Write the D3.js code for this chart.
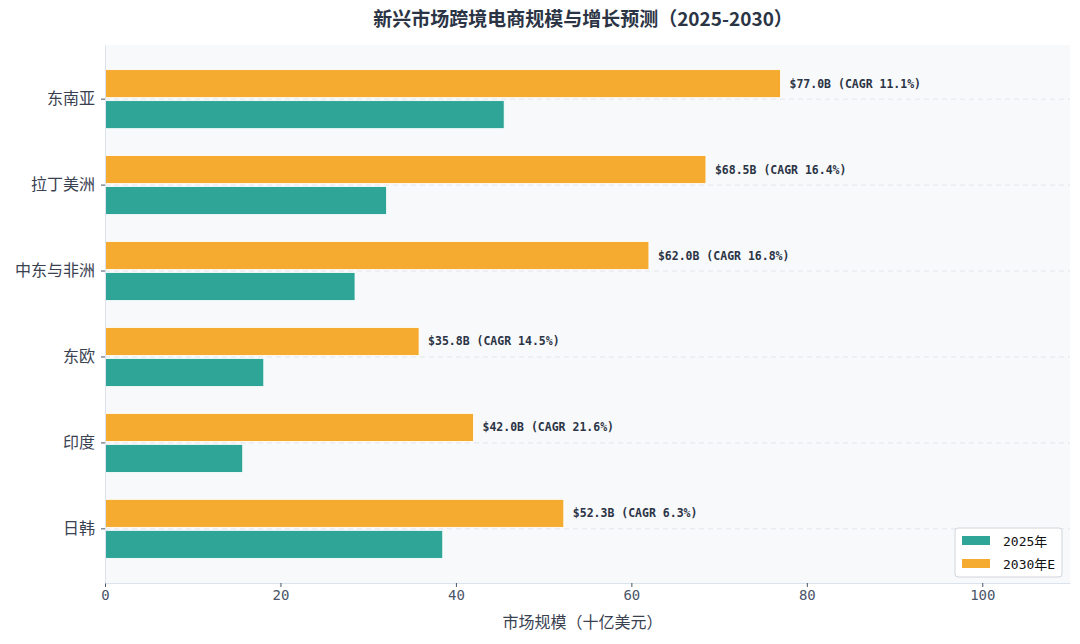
<!DOCTYPE html>
<html><head><meta charset="utf-8">
<script src="https://cdn.jsdelivr.net/npm/d3@7"></script>
<style>
body{margin:0;background:#fff;font-family:"DejaVu Sans Mono","Noto Sans CJK SC",monospace;}
</style></head><body><div id="chart"></div>
<script>
var regions = ["东南亚","拉丁美洲","中东与非洲","东欧","印度","日韩"];
var v2025 = [45.5, 32.1, 28.5, 18.1, 15.7, 38.5];
var v2030 = [77.0, 68.5, 62.0, 35.8, 42.0, 52.3];
var cagr = [11.1, 16.4, 16.8, 14.5, 21.6, 6.3];
var xTicks = [0, 20, 40, 60, 80, 100];

var W = 1080, H = 644;
var margin = {top: 45, right: 10, bottom: 61, left: 105},
    width = W - margin.left - margin.right,
    height = H - margin.top - margin.bottom;

var svg = d3.select("#chart").append("svg").attr("width", W).attr("height", H);

svg.append("text").attr("x", 583).attr("y", 26).attr("text-anchor", "middle")
  .style("font-size", "19px").style("font-weight", "bold").attr("fill", "#2b3445")
  .style("font-family", "'Noto Sans CJK SC','DejaVu Sans Mono'")
  .text("新兴市场跨境电商规模与增长预测（2025-2030）");

var g = svg.append("g").attr("transform", "translate(" + margin.left + "," + margin.top + ")");

g.append("rect").attr("width", width).attr("height", height).attr("fill", "#f8f9fb");

var x = d3.scaleLinear().domain([0, 110]).range([0, width]);
var y = d3.scaleBand().domain(regions).range([0, height]).paddingInner(0).paddingOuter(0.13);
var bh = 28;

// dashed grid at category centers
g.selectAll(".grid").data(regions).enter().append("line")
  .attr("x1", 0).attr("x2", width)
  .attr("y1", d => y(d) + y.bandwidth()/2).attr("y2", d => y(d) + y.bandwidth()/2)
  .attr("stroke", "#e3e6ec").attr("stroke-dasharray", "5,4");

g.selectAll(".b30").data(regions).enter().append("rect")
  .attr("x", 0).attr("y", d => y(d) + y.bandwidth()/2 - bh - 1.5)
  .attr("width", (d, i) => x(v2030[i])).attr("height", bh)
  .attr("fill", "#f5aa30").attr("stroke", "#fff").attr("stroke-width", 0.8);

g.selectAll(".b25").data(regions).enter().append("rect")
  .attr("x", 0).attr("y", d => y(d) + y.bandwidth()/2 + 1.5)
  .attr("width", (d, i) => x(v2025[i])).attr("height", bh)
  .attr("fill", "#2ea597").attr("stroke", "#fff").attr("stroke-width", 0.8);

g.selectAll(".lbl").data(regions).enter().append("text")
  .attr("x", (d, i) => x(v2030[i]) + 9)
  .attr("y", d => y(d) + y.bandwidth()/2 - bh/2 - 1.5)
  .attr("dy", "0.35em").style("font-size", "11.5px").style("font-weight", "bold")
  .attr("fill", "#2b3445")
  .text((d, i) => "$" + v2030[i].toFixed(1) + "B (CAGR " + cagr[i] + "%)");

var xAxis = g.append("g").attr("transform", "translate(0," + height + ")")
  .call(d3.axisBottom(x).tickValues(xTicks).tickSize(4).tickSizeOuter(0));
xAxis.selectAll("text").style("font-size", "14px").attr("fill", "#4a5568").style("font-family", "DejaVu Sans Mono");
xAxis.selectAll("line").attr("stroke", "#4a5568");
xAxis.select(".domain").attr("stroke", "#dde3ee");

var yAxis = g.append("g").call(d3.axisLeft(y).tickSize(4).tickSizeOuter(0));
yAxis.selectAll("text").style("font-size", "16px").attr("fill", "#3a4252")
  .style("font-family", "'Noto Sans CJK SC'").attr("dx", "-3");
yAxis.selectAll("line").attr("stroke", "#4a5568");
yAxis.select(".domain").attr("stroke", "#dde3ee");

svg.append("text").attr("x", margin.left + x(55) - 5).attr("y", 628).attr("text-anchor", "middle")
  .style("font-size", "16px").attr("fill", "#3a4252").style("font-family", "'Noto Sans CJK SC'")
  .text("市场规模（十亿美元）");

// legend
var lg = svg.append("g").attr("transform", "translate(955,528)");
lg.append("rect").attr("width", 107).attr("height", 49).attr("rx", 3)
  .attr("fill", "#fff").attr("stroke", "#d0d4da");
var items = [["2025年", "#2ea597"], ["2030年E", "#f5aa30"]];
items.forEach(function(it, i) {
  lg.append("rect").attr("x", 7).attr("y", 8 + i * 23).attr("width", 28).attr("height", 9).attr("fill", it[1]);
  lg.append("text").attr("x", 48).attr("y", 13 + i * 23).attr("dy", "0.35em")
    .style("font-size", "13px").attr("fill", "#111").text(it[0]);
});
</script></body></html>
